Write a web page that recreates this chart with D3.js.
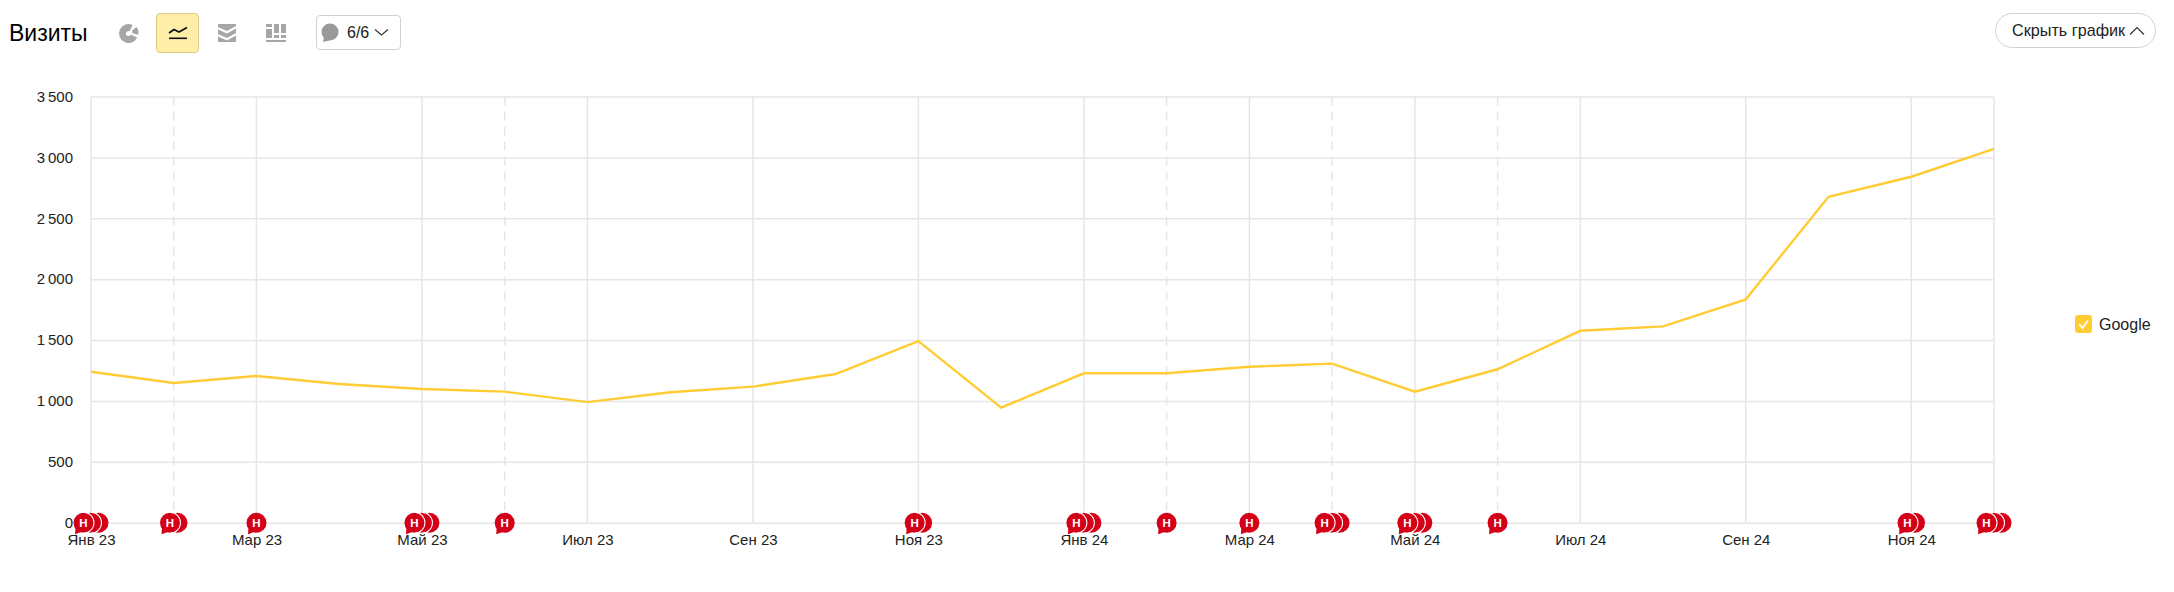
<!DOCTYPE html>
<html lang="ru">
<head>
<meta charset="utf-8">
<script src="https://cdn.jsdelivr.net/npm/d3@7"></script>
<style>
html,body{margin:0;padding:0;background:#fff;overflow:hidden}
svg{display:block;font-family:"Liberation Sans",Arial,sans-serif}
</style>
</head>
<body>
<svg id="c" width="2174" height="592"></svg>
<script>
const months = ["Янв 23","Фев 23","Мар 23","Апр 23","Май 23","Июн 23","Июл 23","Авг 23","Сен 23","Окт 23","Ноя 23","Дек 23",
                "Янв 24","Фев 24","Мар 24","Апр 24","Май 24","Июн 24","Июл 24","Авг 24","Сен 24","Окт 24","Ноя 24","Дек 24"];
const seriesName = "Google";
const visits = [1240,1147,1205,1139,1098,1076,990,1071,1117,1221,1492,945,
                1227,1227,1281,1306,1076,1260,1576,1612,1834,2677,2841,3070];
const noteCounts = [3,2,1,0,3,1,0,0,0,0,2,0,3,1,1,3,3,1,0,0,0,0,2,3];
const yTicks = [0,500,1000,1500,2000,2500,3000,3500];
const xLabels = ["Янв 23","Мар 23","Май 23","Июл 23","Сен 23","Ноя 23","Янв 24","Мар 24","Май 24","Июл 24","Сен 24","Ноя 24"];
const dashedMonths = ["Фев 23","Июн 23","Фев 24","Апр 24","Июн 24"];
const title = "Визиты", counterText = "6/6", hideText = "Скрыть график";

const svg = d3.select("#c");
const M = {l:91, r:1994, t:96.5, b:522.7};
const x = d3.scalePoint().domain(months).range([M.l, M.r]);
const y = d3.scaleLinear().domain([0,3500]).range([M.b, M.t]);
const GRID = "#e6e6e6", TXT = "#222", LINE = "#ffcc33", RED = "#d40018", ICON = "#a6a6a6";

// horizontal grid + y labels
const gy = svg.append("g").attr("transform",`translate(${M.l},0)`)
  .call(d3.axisLeft(y).tickValues(yTicks).tickSize(-(M.r-M.l)).tickPadding(18)
        .tickFormat(d => d3.format(",")(d).replace(",", "\u2009")));
gy.select(".domain").remove();
gy.selectAll("line").attr("stroke",GRID).attr("stroke-width",1.5);
gy.selectAll("text").attr("font-size",15).attr("fill",TXT).attr("font-family","Liberation Sans");

// vertical grid
svg.append("g").selectAll("line")
  .data(xLabels.concat(dashedMonths, ["Дек 24"])).join("line")
  .attr("x1",d=>x(d)).attr("x2",d=>x(d)).attr("y1",M.t).attr("y2",M.b)
  .attr("stroke",GRID).attr("stroke-width",1.5)
  .attr("stroke-dasharray",d=>dashedMonths.includes(d)?"9 6":null);

// x labels
const gx = svg.append("g").attr("transform",`translate(0,${M.b})`)
  .call(d3.axisBottom(x).tickValues(xLabels).tickSize(0).tickPadding(12));
gx.select(".domain").remove();
gx.selectAll("text").attr("font-size",15).attr("fill",TXT).attr("font-family","Liberation Sans");

// line
svg.append("path").datum(visits)
  .attr("fill","none").attr("stroke",LINE).attr("stroke-width",2.4).attr("stroke-linejoin","miter")
  .attr("d",d3.line().x((d,i)=>x(months[i])).y(d=>y(d)));

// note markers
const R = 10, STEP = 7.5;
const notes = months.flatMap((m,i)=>d3.range(noteCounts[i]-1,-1,-1).map(k=>({m,k,n:noteCounts[i]})));
const gn = svg.append("g").selectAll("g").data(notes).join("g")
  .attr("transform",d=>`translate(${x(d.m)+(d.k-(d.n-1)/2)*STEP},${y(0)})`);
gn.append("circle").attr("r",R).attr("fill",RED);
// white separator arc drawn on the right side of each overlapping circle
gn.filter(d=>d.k<d.n-1).append("path")
  .attr("d",d3.arc()({innerRadius:R,outerRadius:R+1,startAngle:0,endAngle:Math.PI})).attr("fill","#fff");
gn.filter(d=>d.k===0).append("path").attr("d","M-8,5 L-8.5,11.5 L0,8.5 Z").attr("fill",RED);
gn.filter(d=>d.k===0).append("text").text("Н")
  .attr("text-anchor","middle").attr("y",4.2).attr("font-size",11.5).attr("font-weight","bold").attr("fill","#fff");

// title
svg.append("text").text(title).attr("x",9).attr("y",41).attr("font-size",23).attr("fill","#000");

// toolbar icons
const tb = svg.append("g");
// pie
tb.append("path").attr("transform","translate(128.5,33.5)").attr("fill",ICON)
  .attr("d",d3.arc()({innerRadius:2.5,outerRadius:9.5,startAngle:2.0,endAngle:2*Math.PI+0.45}));
tb.append("path").attr("transform","translate(130,32.5)").attr("fill",ICON)
  .attr("d",d3.arc()({innerRadius:2.5,outerRadius:8.5,startAngle:0.85,endAngle:1.85}));
// active button
tb.append("rect").attr("x",156.5).attr("y",13.5).attr("width",42).attr("height",39).attr("rx",3.5)
  .attr("fill","#ffeea8").attr("stroke","#dcca86");
tb.append("path").attr("d","M169,33 L174,29.5 L179,32 L187,27.5").attr("fill","none").attr("stroke","#111").attr("stroke-width",1.8);
tb.append("rect").attr("x",169).attr("y",37.5).attr("width",18).attr("height",1.6).attr("fill","#111");
// stacked icon
tb.append("path").attr("fill",ICON)
  .attr("d","M218,24 H236 V26 L227,31 L218,27 Z M218,29.5 L227,33.5 L236,28.5 V33 L227,38 L218,34 Z M218,36.5 L227,40.5 L236,35.5 V42 H218 Z");
// bar icon
tb.append("path").attr("fill",ICON)
  .attr("d","M266,24 H272 V27 H266 Z M266,29 H272 V38 H266 Z M274,24 H279 V33 H274 Z M274,35 H279 V38 H274 Z M281,24 H286 V33 H281 Z M281,35 H286 V38 H281 Z M266,40 H286 V42 H266 Z");
// counter dropdown
tb.append("rect").attr("x",316.5).attr("y",15.5).attr("width",84).attr("height",34).attr("rx",3.5)
  .attr("fill","#fff").attr("stroke","#d2d2d2");
tb.append("circle").attr("cx",330).attr("cy",32).attr("r",8.5).attr("fill","#999");
tb.append("path").attr("d","M324,37 L323,42 L331,40 Z").attr("fill","#999");
tb.append("text").text(counterText).attr("x",347).attr("y",38).attr("font-size",16).attr("fill",TXT);
tb.append("path").attr("d","M375,29.5 L381.5,35 L388,29.5").attr("fill","none").attr("stroke","#333").attr("stroke-width",1.2);

// hide button
tb.append("rect").attr("x",1995.5).attr("y",13.5).attr("width",160).attr("height",34).attr("rx",17)
  .attr("fill","#fff").attr("stroke","#d2d2d2");
tb.append("text").text(hideText).attr("x",2012).attr("y",36).attr("font-size",16.2).attr("fill",TXT);
tb.append("path").attr("d","M2130,34.5 L2137,27.5 L2144,34.5").attr("fill","none").attr("stroke","#333").attr("stroke-width",1.2);

// legend
const lg = svg.append("g");
lg.append("rect").attr("x",2075).attr("y",315).attr("width",17).attr("height",18).attr("rx",3).attr("fill",LINE);
lg.append("path").attr("d","M2079,324 L2082.5,328 L2088,320.5").attr("fill","none").attr("stroke","#fff").attr("stroke-width",1.8);
lg.append("text").text(seriesName).attr("x",2099).attr("y",329.5).attr("font-size",16).attr("fill",TXT);
</script>
</body>
</html>
